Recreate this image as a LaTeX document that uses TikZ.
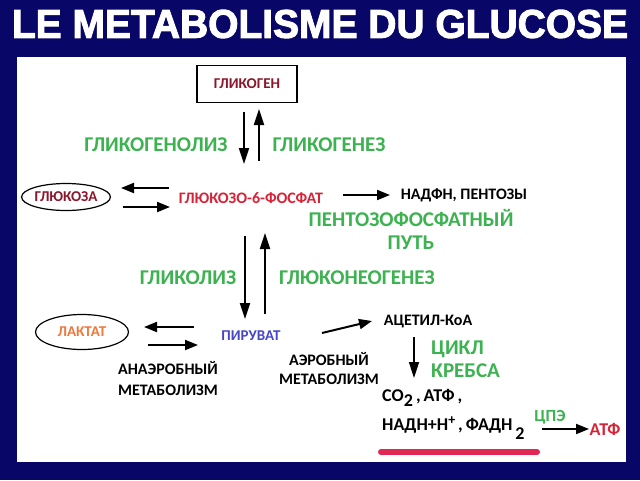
\documentclass[tikz,border=0pt]{standalone}
\usepackage{fontspec}
\setmainfont{Carlito}
\newfontfamily\titlefont[UprightFont={* Bold}, UprightFeatures={FakeBold=2.5}]{Liberation Sans}
\usetikzlibrary{arrows.meta,shapes.geometric}
\definecolor{navy}{RGB}{8,6,102}
\definecolor{grn}{RGB}{60,178,80}
\definecolor{dred}{RGB}{140,22,42}
\definecolor{rd}{RGB}{215,35,55}
\definecolor{orng}{RGB}{240,120,60}
\definecolor{blu}{RGB}{70,70,200}
\definecolor{pinkline}{RGB}{225,40,85}
\tikzset{
  lbl/.style={inner sep=0pt, font=\bfseries\fontsize{15}{17}\selectfont, align=center},
  mlbl/.style={inner sep=0pt, font=\bfseries\fontsize{16}{19}\selectfont, align=center},
  glbl/.style={inner sep=0pt, text=grn, font=\bfseries\fontsize{21}{23}\selectfont, align=center},
  blbl/.style={inner sep=0pt, font=\bfseries\fontsize{16}{21}\selectfont, align=center},
  big/.style={inner sep=0pt, font=\bfseries\fontsize{18}{20}\selectfont},
  arr/.style={line width=2pt, -{Triangle[length=13pt,width=10pt]}},
  varr/.style={line width=2pt, -{Triangle[length=16pt,width=10pt]}},
}
\begin{document}
\begin{tikzpicture}[x=1pt,y=-1pt]
\fill[navy] (0,0) rectangle (640,480);
\useasboundingbox (0,0) rectangle (640,480);
\fill[white] (17,57) rectangle (626,462);
\node[white, inner sep=0pt, font=\titlefont] (title) at (320,24) {\resizebox{616pt}{28pt}{LE METABOLISME DU GLUCOSE}};

% nodes
\node[lbl, text=dred, draw=black, line width=1.3pt, minimum width=100pt, minimum height=37pt] (glycogen) at (247,84) {ГЛИКОГЕН};
\node[lbl, text=dred, draw=black, line width=1.2pt, ellipse, minimum width=87pt, minimum height=27pt] (glucose) at (66,197) {ГЛЮКОЗА};
\node[mlbl, text=rd] (g6p) at (251,198) {ГЛЮКОЗО-6-ФОСФАТ};
\node[mlbl] (nadph) at (464,195) {НАДФН, ПЕНТОЗЫ};
\node[glbl] (ppp) at (411,229) {ПЕНТОЗОФОСФАТНЫЙ\\ПУТЬ};
\node[glbl] (glgnl) at (156,145) {ГЛИКОГЕНОЛИЗ};
\node[glbl] (glgnz) at (329,145) {ГЛИКОГЕНЕЗ};
\node[glbl] (glyc) at (188,278) {ГЛИКОЛИЗ};
\node[glbl] (gng) at (357,278) {ГЛЮКОНЕОГЕНЕЗ};
\node[lbl, text=orng, draw=black, line width=1.2pt, ellipse, minimum width=93pt, minimum height=35pt] (lactate) at (82,332) {ЛАКТАТ};
\node[lbl, text=blu] (pyr) at (251,336) {ПИРУВАТ};
\node[blbl] (anaer) at (168,379) {АНАЭРОБНЫЙ\\МЕТАБОЛИЗМ};
\node[mlbl] (aer) at (329,369) {АЭРОБНЫЙ\\МЕТАБОЛИЗМ};
\node[mlbl] (acoa) at (428,322) {АЦЕТИЛ-КоА};
\node[glbl, align=left, anchor=west] (krebs) at (431,359) {ЦИКЛ\\КРЕБСА};
\node[big, anchor=west] (co2) at (382,398) {СО\raisebox{-5pt}{2}\,,\,АТФ\,,};
\node[big, anchor=west] (nadh) at (382,428) {НАДН+Н\raisebox{6pt}{\fontsize{14}{14}\selectfont+}\,,\,ФАДН\,\raisebox{-9pt}{2}};
\node[inner sep=0pt, text=grn, font=\bfseries\fontsize{17}{17}\selectfont] (cpe) at (550,417) {ЦПЭ};
\node[big, text=rd] (atp) at (605,429) {АТФ};

% connector endpoints
\coordinate (a1s) at (244,112); \coordinate (a1e) at (244,164);
\coordinate (a2s) at (259,161); \coordinate (a2e) at (259,109);
\coordinate (a3s) at (169,188); \coordinate (a3e) at (121,188);
\coordinate (a4s) at (123,207); \coordinate (a4e) at (170,207);
\coordinate (a5s) at (343,195); \coordinate (a5e) at (390,195);
\coordinate (a6s) at (245,236); \coordinate (a6e) at (245,319);
\coordinate (a7s) at (265,314); \coordinate (a7e) at (265,233);
\coordinate (a8s) at (194,327); \coordinate (a8e) at (144,327);
\coordinate (a9s) at (148,345); \coordinate (a9e) at (198,345);
\coordinate (a10s) at (322,333); \coordinate (a10e) at (372,321);
\coordinate (a11s) at (414,337); \coordinate (a11e) at (414,378);
\coordinate (a12s) at (542,429); \coordinate (a12e) at (589,429);

\draw[varr] (a1s) -- (a1e);
\draw[varr] (a2s) -- (a2e);
\draw[arr] (a3s) -- (a3e);
\draw[arr] (a4s) -- (a4e);
\draw[arr] (a5s) -- (a5e);
\draw[varr] (a6s) -- (a6e);
\draw[varr] (a7s) -- (a7e);
\draw[arr] (a8s) -- (a8e);
\draw[arr] (a9s) -- (a9e);
\draw[arr] (a10s) -- (a10e);
\draw[varr, line width=1.6pt] (a11s) -- (a11e);
\draw[arr] (a12s) -- (a12e);

% underline
\coordinate (u1) at (381,452); \coordinate (u2) at (537,452);
\draw[pinkline, line width=6pt, line cap=round] (u1) -- (u2);
\end{tikzpicture}
\end{document}
